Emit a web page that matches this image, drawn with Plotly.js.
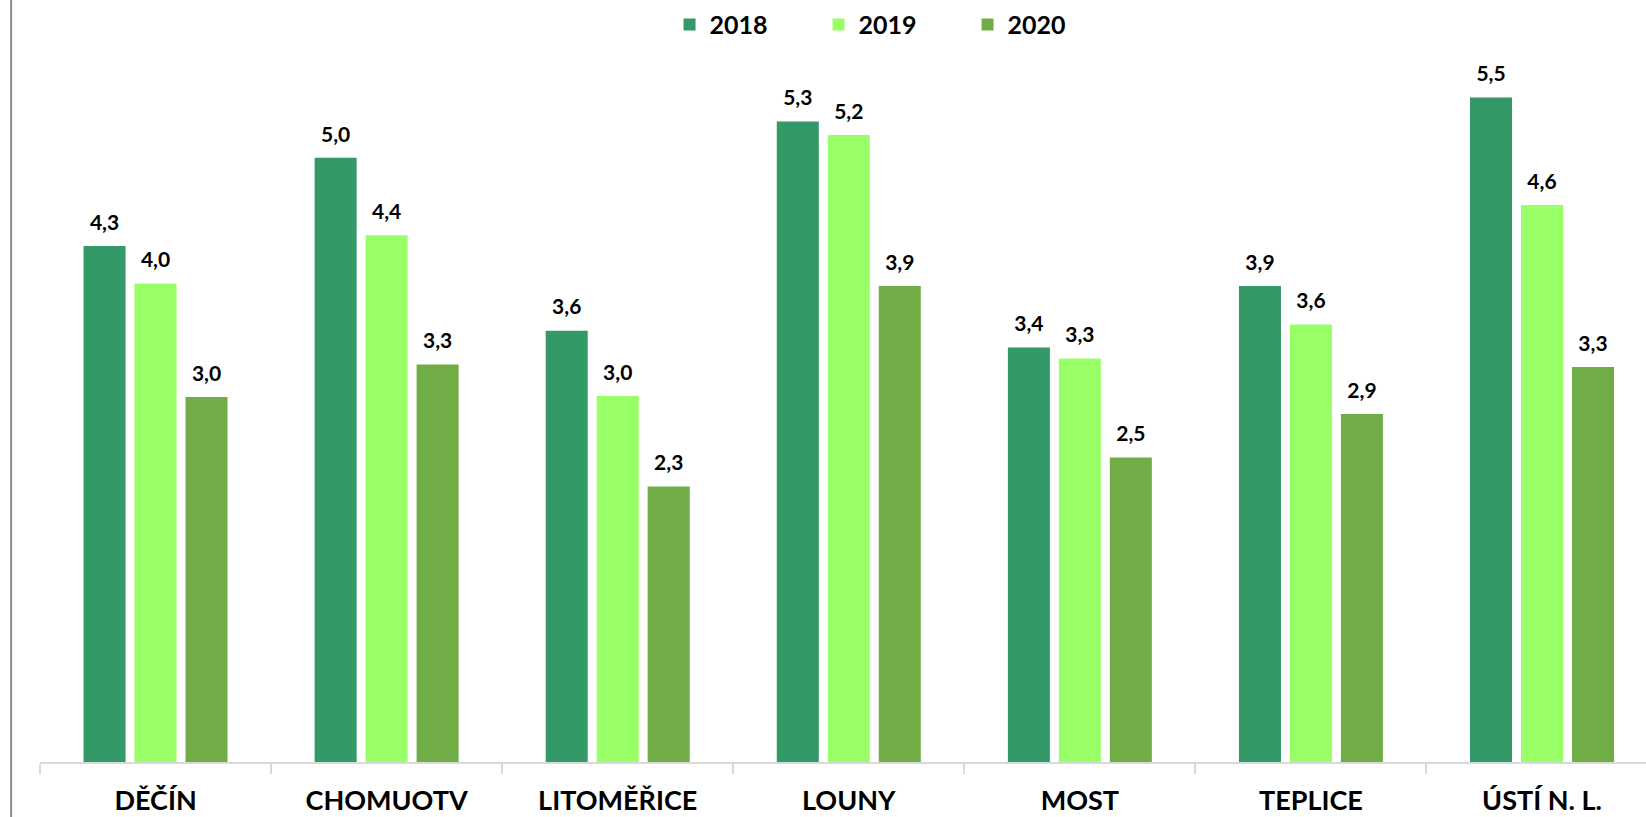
<!DOCTYPE html>
<html>
<head>
<meta charset="utf-8">
<script src="https://cdn.plot.ly/plotly-3.0.1.min.js"></script>
<style>body{margin:0;background:#fff}#plotArea{width:1646px;height:817px}</style>
</head>
<body>
<div id="plotArea"></div>
<script>
// data
var okresy = ["DĚČÍN", "CHOMUOTV", "LITOMĚŘICE", "LOUNY", "MOST", "TEPLICE", "ÚSTÍ N. L."];
var roky = ["2018", "2019", "2020"];
var hodnoty2018 = [4.27, 5.00, 3.57, 5.30, 3.43, 3.94, 5.50];
var hodnoty2019 = [3.96, 4.36, 3.03, 5.19, 3.34, 3.62, 4.61];
var hodnoty2020 = [3.02, 3.29, 2.28, 3.94, 2.52, 2.88, 3.27];
var barvy = ["#339966", "#99FF66", "#70AD47"];

var rady = [hodnoty2018, hodnoty2019, hodnoty2020];
var data = [];

// bars
rady.forEach(function (y, i) {
    data.push({
        type: "bar",
        name: roky[i],
        x: okresy,
        y: y,
        marker: { color: barvy[i] },
        textposition: "none",
        hoverinfo: "x+y+name"
    });
});

// data labels (grouped scatter so they sit over the bars)
rady.forEach(function (y, i) {
    data.push({
        type: "scatter",
        mode: "markers+text",
        x: okresy,
        y: y,
        marker: { size: 16, opacity: 0, color: barvy[i] },
        texttemplate: "%{y:.1f}",
        textposition: "top center",
        textfont: { family: "Lato, sans-serif", size: 21, weight: 700, color: "#000" },
        cliponaxis: false,
        showlegend: false,
        hoverinfo: "skip"
    });
});

var layout = {
    width: 1646,
    height: 817,
    separators: ", ",
    font: { family: "Lato, sans-serif", weight: 700, color: "#000" },
    paper_bgcolor: "#fff",
    plot_bgcolor: "#fff",
    margin: { l: 40, r: 0, t: 60, b: 55 },
    barmode: "group",
    bargap: 0.338,
    bargroupgap: 0.176,
    scattermode: "group",
    scattergap: 0.338,
    showlegend: true,
    legend: {
        orientation: "h",
        x: 0.392,
        xanchor: "left",
        y: 1.083,
        yanchor: "top",
        entrywidth: 104,
        entrywidthmode: "pixels",
        font: { family: "Lato, sans-serif", size: 25, weight: 700, color: "#000" },
        traceorder: "normal"
    },
    xaxis: {
        type: "category",
        range: [-0.5, 6.45],
        showline: true,
        linecolor: "#d9d9d9",
        linewidth: 2,
        ticks: "outside",
        tickson: "boundaries",
        ticklen: 10,
        tickwidth: 2,
        tickcolor: "#d9d9d9",
        ticklabelstandoff: 14,
        tickfont: { family: "Lato, sans-serif", size: 27, weight: 700, color: "#000" },
        showgrid: false,
        zeroline: false,
        fixedrange: true
    },
    yaxis: {
        range: [0, 5.81],
        showticklabels: false,
        showgrid: false,
        zeroline: false,
        showline: false,
        ticks: "",
        fixedrange: true
    },
    shapes: [{
        type: "line",
        xref: "paper", yref: "paper",
        x0: -0.018, x1: -0.018,
        y0: -0.1, y1: 1.1,
        line: { color: "#8c8c8c", width: 2 }
    }]
};

Plotly.newPlot("plotArea", data, layout, { displayModeBar: false });
</script>
</body>
</html>
